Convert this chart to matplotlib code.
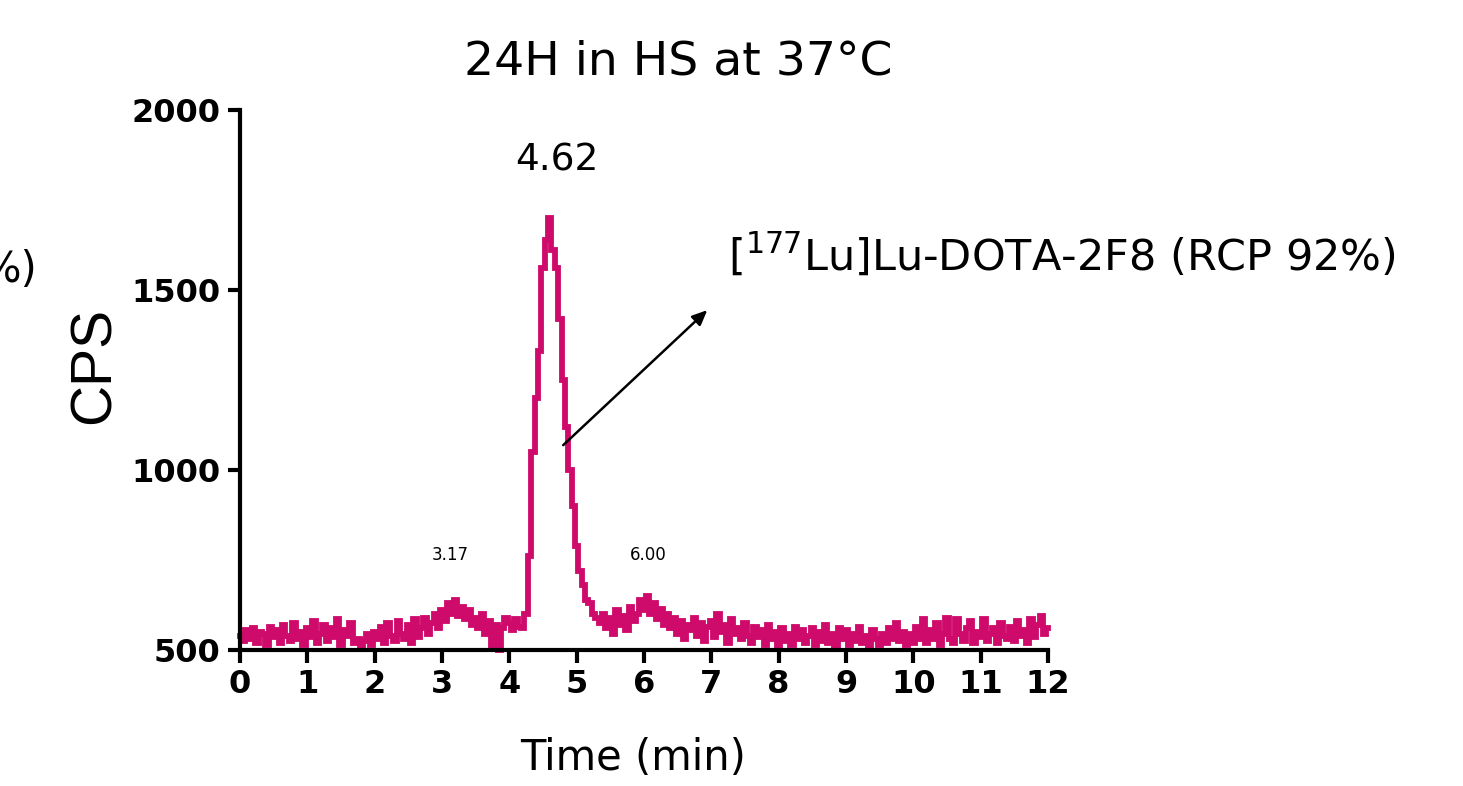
import numpy as np
import matplotlib
matplotlib.use("Agg")
import matplotlib.pyplot as plt

# --- data (CPS sampled every 0.05 min from 0 to 12 min) ---
sample_step_min = 0.05
cps = [
    # 0.00-0.95
    540, 525, 555, 530, 560, 520, 550, 545, 515, 565, 535, 555, 520, 570, 540, 525, 575, 530, 550, 515,
    # 1.00-1.95
    560, 535, 580, 520, 545, 570, 525, 560, 535, 585, 515, 555, 540, 575, 520, 530, 510, 525, 545, 515,
    # 2.00-2.95
    550, 530, 565, 520, 575, 540, 525, 580, 545, 530, 570, 520, 585, 535, 560, 590, 545, 575, 600, 560,
    # 3.00-3.95
    610, 580, 630, 600, 640, 595, 620, 585, 610, 570, 590, 560, 600, 545, 580, 510, 570, 500, 560, 590,
    # 4.00-4.15
    575, 555, 585, 565,
    # 4.20-5.30 (main peak)
    560, 600, 760, 1050, 1200, 1330, 1560, 1640, 1700, 1610, 1560, 1420, 1250, 1120, 1000, 900,
    790, 720, 680, 640, 630, 600, 590,
    # 5.35-6.45
    575, 600, 560, 590, 545, 610, 570, 595, 555, 620, 580, 600, 640, 610, 650, 600, 630, 585, 615,
    570, 600, 560, 590,
    # 6.50-7.45
    545, 580, 530, 570, 555, 590, 540, 575, 525, 565, 580, 535, 600, 550, 570, 520, 585, 545, 560, 530,
    # 7.50-8.45
    575, 540, 520, 565, 535, 555, 515, 570, 530, 550, 510, 560, 525, 545, 515, 565, 530, 555, 520, 540,
    # 8.50-9.45
    560, 515, 550, 525, 570, 520, 545, 510, 560, 530, 555, 515, 545, 525, 565, 520, 540, 510, 555, 530,
    # 9.50-10.45
    515, 545, 520, 560, 530, 575, 525, 550, 515, 545, 520, 565, 530, 585, 520, 555, 530, 575, 515, 545,
    # 10.50-11.45
    590, 530, 520, 585, 545, 525, 560, 580, 520, 550, 535, 585, 525, 545, 560, 520, 575, 540, 530, 565,
    # 11.50-12.00
    525, 580, 540, 555, 520, 585, 535, 570, 595, 545, 560,
]
time_min = np.arange(len(cps)) * sample_step_min

x_ticks = list(range(0, 13))
y_ticks = [500, 1000, 1500, 2000]
peak_labels = ["3.17", "4.62", "6.00"]
peak_times = [3.17, 4.62, 6.00]
title = "24H in HS at 37°C"
annotation = r"[$\mathregular{^{177}}$Lu]Lu-DOTA-2F8 (RCP 92%)"

# --- figure ---
W, H = 1463, 786
fig = plt.figure(figsize=(W / 100, H / 100), dpi=100)
ax = fig.add_axes([240 / W, 1 - 650 / H, (1048 - 240) / W, (650 - 110) / H])

line_color = "#CE0B6B"
ax.plot(time_min, cps, color=line_color, lw=4.2, drawstyle="steps-mid",
        solid_joinstyle="miter", clip_on=False, zorder=3)

ax.set_xlim(0, 12)
ax.set_ylim(500, 2000)
ax.set_xticks(x_ticks)
ax.set_yticks(y_ticks)
for s in ["top", "right"]:
    ax.spines[s].set_visible(False)
for s in ["left", "bottom"]:
    ax.spines[s].set_linewidth(3.0)
    ax.spines[s].set_zorder(4)
ax.tick_params(axis="both", direction="out", width=3.0, length=9, pad=5)
for lab in ax.get_xticklabels() + ax.get_yticklabels():
    lab.set_fontfamily("DejaVu Sans")
    lab.set_fontweight("bold")
    lab.set_fontsize(23)

ax.set_xlabel("Time (min)", fontsize=30, family="DejaVu Sans")
ax.xaxis.set_label_coords((633 - 240) / (1048 - 240), -(737 - 650) / (650 - 110))
ax.set_ylabel("CPS", fontsize=41, family="Liberation Sans")
ax.yaxis.set_label_coords((122 - 240) / (1048 - 240), (650 - 365) / (650 - 110))

fig.text(678 / W, 1 - 62 / H, title, fontsize=34, family="DejaVu Sans", ha="center", va="center")

# peak labels
ax.text(peak_times[1] + 0.09, 1860, peak_labels[1], fontsize=27, family="DejaVu Sans", ha="center", va="center")
ax.text(peak_times[0] - 0.05, 765, peak_labels[0], fontsize=12, family="DejaVu Sans", ha="center", va="center")
ax.text(peak_times[2] + 0.07, 765, peak_labels[2], fontsize=12, family="DejaVu Sans", ha="center", va="center")

# arrow + compound label
ax.annotate("", xy=(6.94, 1444), xytext=(4.80, 1069),
            arrowprops=dict(arrowstyle="-|>,head_length=0.9,head_width=0.4", color="black", lw=1.8,
                            shrinkA=0, shrinkB=0), annotation_clip=False, zorder=5)
fig.text(728 / W, 1 - 255 / H, annotation, fontsize=31, family="DejaVu Sans", ha="left", va="center")

# cropped text at far left edge (as in the reference)
fig.text(38 / W, 1 - 270 / H, "%)", fontsize=30, family="DejaVu Sans", ha="right", va="center")

fig.savefig("out.png", dpi=100)
